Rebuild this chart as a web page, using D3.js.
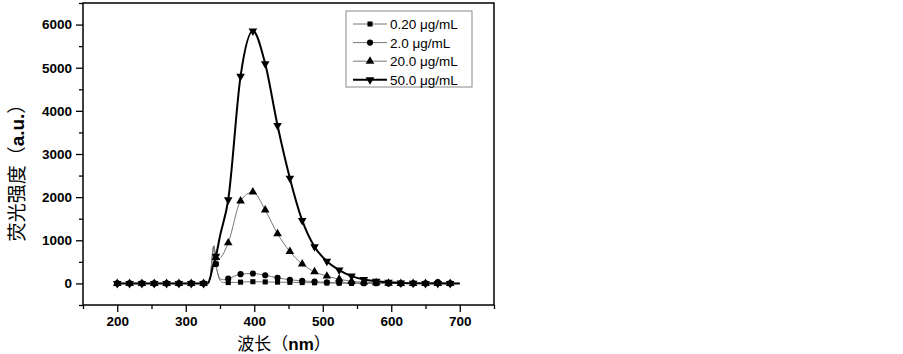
<!DOCTYPE html>
<html>
<head>
<meta charset="utf-8">
<script src="https://cdn.jsdelivr.net/npm/d3@7"></script>
<style>
  body { margin: 0; background: #fff; }
  .tick text { font-family: "Liberation Sans", Arial, sans-serif; font-weight: bold; font-size: 13.5px; fill: #000; }
</style>
</head>
<body>
<div id="chart"></div>
<script>
// marker wavelengths (nm)
var wavelengths = [200,218,236,254,272,290,308,326,344,362,380,398,416,434,452,470,488,506,524,542,560,578,596,614,632,650,668,686];

// intensities at each marker
var s020 = [0,0,0,0,0,0,0,0, 450,20,30,40,35,30,25,20,15,10,10,5,5,5,0,0,0,0,0,0];
var s20  = [0,0,0,0,0,0,0,0, 450,110,215,230,190,130,85,60,40,25,15,10,5,5,0,0,0,0,30,0];
var s200 = [0,0,0,0,0,0,0,0, 600,940,1910,2120,1700,1150,740,450,270,170,100,50,30,15,5,0,0,0,0,0];
var s500 = [0,0,0,0,0,0,0,0, 630,1940,4800,5850,5090,3660,2440,1460,850,515,310,170,90,50,25,10,5,0,0,0];

// extra line-only points (scatter spike near 340 nm, end of scan)
var spike020 = [[332,0],[336,150],[338,500],[341,870],[343,650],[346,280],[350,70],[355,20],[700,0]];
var spike20  = [[332,0],[336,150],[338,500],[341,870],[343,650],[346,290],[350,110],[355,85],[700,0]];
var spike200 = [[332,0],[336,150],[338,500],[341,870],[343,680],[346,540],[350,580],[700,0]];
var spike500 = [[332,0],[336,150],[340,420],[350,1100],[700,0]];

var labels = ["0.20 μg/mL", "2.0 μg/mL", "20.0 μg/mL", "50.0 μg/mL"];
var yTicks = [0,1000,2000,3000,4000,5000,6000];
var xTicks = [200,300,400,500,600,700];

var width = 903, height = 354;
var margin = {top: 3, left: 83, right: 409, bottom: 49};

var svg = d3.select("#chart").append("svg")
    .attr("width", width)
    .attr("height", height);

var xScale = d3.scaleLinear().domain([150, 750]).range([margin.left, width - margin.right]);
var yScale = d3.scaleLinear().domain([-500, 6500]).range([height - margin.bottom, margin.top]);

var series = [
    {vals: s020, extra: spike020, shape: d3.symbolSquare, size: 26, rot: 0, color: "#777", w: 1},
    {vals: s20, extra: spike20, shape: d3.symbolCircle, size: 30, rot: 0, color: "#777", w: 1},
    {vals: s200, extra: spike200, shape: d3.symbolTriangle, size: 32, rot: 0, color: "#777", w: 1},
    {vals: s500, extra: spike500, shape: d3.symbolTriangle, size: 32, rot: 180, color: "#000", w: 2}
];

// minor ticks
svg.append("g")
    .attr("transform", `translate(0, ${height - margin.bottom})`)
    .call(d3.axisBottom(xScale).tickValues([150,250,350,450,550,650,750]).tickSize(4).tickFormat(""))
    .call(g => g.select(".domain").remove())
    .selectAll("line").attr("stroke-width", 1.3);
svg.append("g")
    .attr("transform", `translate(${margin.left}, 0)`)
    .call(d3.axisLeft(yScale).tickValues([-500,500,1500,2500,3500,4500,5500,6500]).tickSize(4).tickFormat(""))
    .call(g => g.select(".domain").remove())
    .selectAll("line").attr("stroke-width", 1.3);

var xAxis = svg.append("g")
    .attr("transform", `translate(0, ${height - margin.bottom})`)
    .call(d3.axisBottom(xScale).tickValues(xTicks).tickSize(7).tickPadding(4).tickSizeOuter(0).tickFormat(d3.format("d")));
xAxis.select(".domain").remove();
xAxis.selectAll("line").attr("stroke-width", 1.3);

var yAxis = svg.append("g")
    .attr("transform", `translate(${margin.left}, 0)`)
    .call(d3.axisLeft(yScale).tickValues(yTicks).tickSize(7).tickPadding(4).tickSizeOuter(0).tickFormat(d3.format("d")));
yAxis.select(".domain").remove();
yAxis.selectAll("line").attr("stroke-width", 1.3);

// frame
svg.append("rect")
    .attr("x", margin.left)
    .attr("y", margin.top)
    .attr("width", width - margin.right - margin.left)
    .attr("height", height - margin.bottom - margin.top)
    .attr("fill", "none")
    .attr("stroke", "#000")
    .attr("stroke-width", 1.5);

var line = d3.line()
    .x(function(d) { return xScale(d[0]); })
    .y(function(d) { return yScale(d[1]); })
    .curve(d3.curveMonotoneX);

series.forEach(function(s) {
    var pts = wavelengths.map(function(w, i) { return [w, s.vals[i]]; }).concat(s.extra);
    pts.sort(function(a, b) { return a[0] - b[0]; });
    svg.append("path")
        .attr("d", line(pts))
        .attr("fill", "none")
        .attr("stroke", s.color)
        .attr("stroke-width", s.w);
});

series.forEach(function(s) {
    svg.selectAll(null)
        .data(wavelengths.map(function(w, i) { return [w, s.vals[i]]; }))
        .enter()
        .append("path")
            .attr("d", d3.symbol().type(s.shape).size(s.size))
            .attr("transform", function(d) { return `translate(${xScale(d[0])}, ${yScale(d[1])}) rotate(${s.rot})`; })
            .attr("fill", "#000");
});

// legend
var legend = svg.append("g");
legend.append("rect")
    .attr("x", 346).attr("y", 11)
    .attr("width", 126).attr("height", 76)
    .attr("fill", "#fff")
    .attr("stroke", "#888")
    .attr("stroke-width", 1);

series.forEach(function(s, i) {
    var y = 24 + i * 18.6;
    legend.append("line")
        .attr("x1", 353).attr("x2", 387)
        .attr("y1", y).attr("y2", y)
        .attr("stroke", s.color)
        .attr("stroke-width", s.w);
    legend.append("path")
        .attr("d", d3.symbol().type(s.shape).size(s.size))
        .attr("transform", `translate(370, ${y}) rotate(${s.rot})`)
        .attr("fill", "#000");
    legend.append("text")
        .attr("x", 390).attr("y", y + 5)
        .style("font-family", "Liberation Sans, Arial, sans-serif")
        .style("font-size", "13.5px")
        .text(labels[i]);
});

// axis titles
var xTitle = svg.append("text")
    .attr("x", 284)
    .attr("y", 350)
    .attr("text-anchor", "middle")
    .style("font-size", "17px");
xTitle.append("tspan").style("font-family", "Noto Sans CJK SC").text("波长（");
xTitle.append("tspan").style("font-family", "Liberation Sans, Arial").style("font-weight", "bold").text("nm");
xTitle.append("tspan").style("font-family", "Noto Sans CJK SC").text("）");

var yTitle = svg.append("text")
    .attr("transform", "rotate(-90)")
    .attr("x", -168)
    .attr("y", 24)
    .attr("text-anchor", "middle")
    .style("font-size", "19px");
yTitle.append("tspan").style("font-family", "Noto Sans CJK SC").text("荧光强度（");
yTitle.append("tspan").style("font-family", "Liberation Sans, Arial").style("font-weight", "bold").text("a.u.");
yTitle.append("tspan").style("font-family", "Noto Sans CJK SC").text("）");
</script>
</body>
</html>
